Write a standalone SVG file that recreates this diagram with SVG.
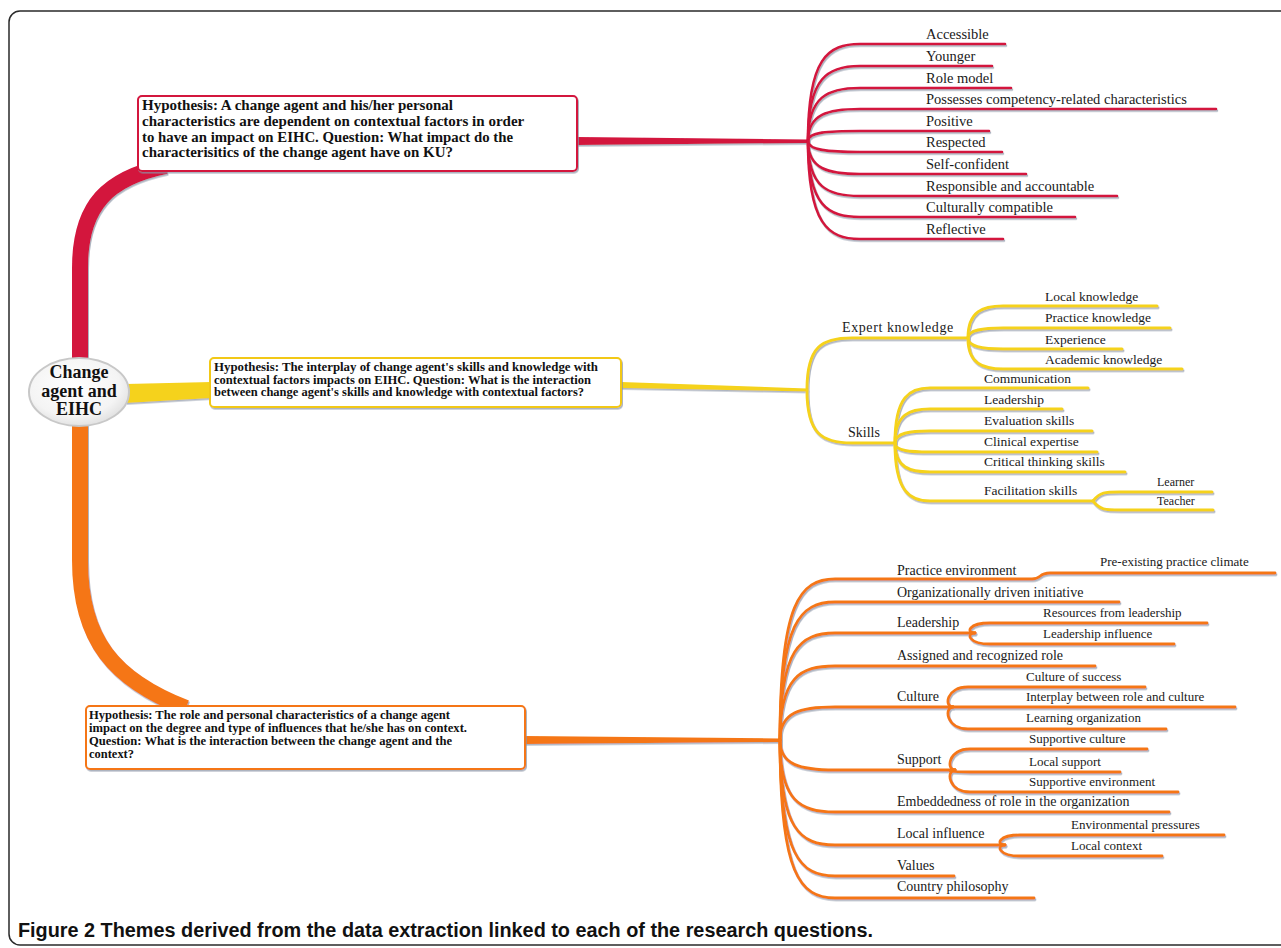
<svg xmlns="http://www.w3.org/2000/svg" width="1281" height="948" viewBox="0 0 1281 948">
<defs>
<filter id="sh" x="-5%" y="-5%" width="110%" height="110%"><feDropShadow dx="1" dy="1.6" stdDeviation="0.5" flood-color="#8a94a6" flood-opacity="0.7"/></filter>
<radialGradient id="eg" cx="0.45" cy="0.4" r="0.65"><stop offset="0" stop-color="#ffffff"/><stop offset="0.7" stop-color="#f4f4f4"/><stop offset="1" stop-color="#dcdcdc"/></radialGradient>
</defs>
<style>
.r{fill:none;stroke:#d3143e;stroke-width:2.6;stroke-linecap:round}
.y{fill:none;stroke:#f5d21a;stroke-width:3;stroke-linecap:round}
.o{fill:none;stroke:#f57614;stroke-width:2.8;stroke-linecap:round}
.lb{font-family:"Liberation Serif","Times New Roman",serif;fill:#1a1a1a}
.lr{font-size:14.5px}
.ly{font-size:13.5px}
.lo{font-size:14px}
.ls{font-size:13px}
.bt{font-family:"Liberation Serif","Times New Roman",serif;font-weight:bold;fill:#111}
.box{fill:#fff;stroke-width:2}
</style>
<rect x="9" y="11" width="1300" height="934" rx="11" fill="#fff" stroke="#2a2a2a" stroke-width="1.5"/>

<g id="connectors" filter="url(#sh)">
<path d="M80,362 L80,268 C80,205 108,178 166,166" fill="none" stroke="#d3143e" stroke-width="16"/>
<path d="M80,422 L80,560 C80,640 114,680 186,708" fill="none" stroke="#f57614" stroke-width="16"/>
<polygon points="126,384 212,382 212,398 126,403" fill="#f5d21a"/>
<polygon points="577,137 808,139.5 808,143 577,145" fill="#d3143e"/>
<polygon points="621,382 807,388.5 807,391.5 621,388" fill="#f5d21a"/>
<polygon points="525,736 780,738.5 780,742 525,744" fill="#f57614"/>
<g class="r">
<path d="M808,141 C808,58 828,44 860,44 L1005,44"/>
<path d="M808,141 C808,77 828,66 860,66 L992,66"/>
<path d="M808,141 C808,96 828,88 860,88 L1011,88"/>
<path d="M808,141 C808,114 828,109 860,109 L1216,109"/>
<path d="M808,141 C808,132 828,131 860,131 L989,131"/>
<path d="M808,141 C808,150 828,152 860,152 L1002,152"/>
<path d="M808,141 C808,169 828,174 860,174 L1026,174"/>
<path d="M808,141 C808,188 828,196 860,196 L1117,196"/>
<path d="M808,141 C808,206 828,217 860,217 L1075,217"/>
<path d="M808,141 C808,224 828,239 860,239 L1003,239"/>
</g>
<g class="y">
<path d="M807,390 C807,346 822,338 852,338 L968,338"/>
<path d="M807,390 C807,434 822,443 852,443 L895,443"/>
<path d="M968,338 C968,311 983,306 1003,306 L1157,306"/>
<path d="M968,338 C968,330 983,328 1003,328 L1170,328"/>
<path d="M968,338 C968,347 983,349 1003,349 L1122,349"/>
<path d="M968,338 C968,364 983,369 1003,369 L1182,369"/>
<path d="M895,443 C895,396 910,388 930,388 L1088,388"/>
<path d="M895,443 C895,414 910,409 930,409 L1062,409"/>
<path d="M895,443 C895,433 910,431 930,431 L1092,431"/>
<path d="M895,443 C895,451 910,452 930,452 L1097,452"/>
<path d="M895,443 C895,468 910,472 930,472 L1125,472"/>
<path d="M895,443 C895,492 910,501 930,501 L1093,501"/>
<path d="M1093,501 C1100,492 1105,492 1120,492 L1212,492"/>
<path d="M1093,501 C1100,510 1105,510 1120,510 L1213,510"/>
</g>
<g class="o">
<path d="M780,740 C780,603 800,579 835,579 L1032,579 C1042,579 1038,573 1050,573 L1275,573"/>
<path d="M780,740 C780,623 800,602 835,602 L1119,602"/>
<path d="M780,740 C780,649 800,633 835,633 L975,633"/>
<path d="M780,740 C780,677 800,666 835,666 L1095,666"/>
<path d="M780,740 C780,712 800,707 835,707 L953,707"/>
<path d="M780,740 C780,765 800,770 835,770 L955,770"/>
<path d="M780,740 C780,801 800,812 835,812 L1169,812"/>
<path d="M780,740 C780,829 800,845 835,845 L1005,845"/>
<path d="M780,740 C780,856 800,876 835,876 L954,876"/>
<path d="M780,740 C780,874 800,898 835,898 L1034,898"/>
<path d="M975,633 C966,633 968,623 990,623 L1207,623"/>
<path d="M975,633 C966,633 968,644 990,644 L1174,644"/>
<path d="M953,707 C944,707 946,687 968,687 L1145,687"/>
<path d="M953,707 L1235,707"/>
<path d="M953,707 C944,707 946,729 968,729 L1166,729"/>
<path d="M955,770 C946,770 948,749 970,749 L1147,749"/>
<path d="M955,770 C946,770 948,772 970,772 L1120,772"/>
<path d="M955,770 C946,770 948,792 970,792 L1178,792"/>
<path d="M1005,845 C996,845 998,835 1020,835 L1224,835"/>
<path d="M1005,845 C996,845 998,856 1020,856 L1162,856"/>
</g>
</g>

<g id="center">
<ellipse cx="79" cy="392" rx="50" ry="34" fill="url(#eg)" stroke="#c8c8c8" stroke-width="2"/>
<text class="bt" font-size="18" text-anchor="middle"><tspan x="79" y="378">Change</tspan><tspan x="79" y="397">agent and</tspan><tspan x="79" y="415">EIHC</tspan></text>
</g>

<g id="hyp1">
<rect class="box" x="138" y="96" width="439" height="75" rx="4" stroke="#d3143e" filter="url(#sh)"/>
<text class="bt" font-size="14.5">
<tspan x="142" y="110" textLength="311" lengthAdjust="spacingAndGlyphs">Hypothesis: A change agent and his/her personal</tspan>
<tspan x="142" y="126" textLength="382" lengthAdjust="spacingAndGlyphs">characteristics are dependent on contextual factors in order</tspan>
<tspan x="142" y="142" textLength="371" lengthAdjust="spacingAndGlyphs">to have an impact on EIHC. Question: What impact do the</tspan>
<tspan x="142" y="157" textLength="311" lengthAdjust="spacingAndGlyphs">characterisitics of the change agent have on KU?</tspan>
</text>
</g>

<g id="hyp2">
<rect class="box" x="210" y="358" width="411" height="49" rx="4" stroke="#f2c812" filter="url(#sh)"/>
<text class="bt" font-size="12">
<tspan x="214" y="371" textLength="384" lengthAdjust="spacingAndGlyphs">Hypothesis: The interplay of change agent's skills and knowledge with</tspan>
<tspan x="214" y="384" textLength="377" lengthAdjust="spacingAndGlyphs">contextual factors impacts on EIHC. Question: What is the interaction</tspan>
<tspan x="214" y="396" textLength="370" lengthAdjust="spacingAndGlyphs">between change agent's skills and knowledge with contextual factors?</tspan>
</text>
</g>

<g id="hyp3">
<rect class="box" x="86" y="706" width="439" height="63" rx="4" stroke="#f57614" filter="url(#sh)"/>
<text class="bt" font-size="12.5">
<tspan x="89" y="719" textLength="361" lengthAdjust="spacingAndGlyphs">Hypothesis: The role and personal characteristics of a change agent</tspan>
<tspan x="89" y="732" textLength="378" lengthAdjust="spacingAndGlyphs">impact on the degree and type of influences that he/she has on context.</tspan>
<tspan x="89" y="745" textLength="363" lengthAdjust="spacingAndGlyphs">Question: What is the interaction between the change agent and the</tspan>
<tspan x="89" y="758" textLength="45" lengthAdjust="spacingAndGlyphs">context?</tspan>
</text>
</g>

<g id="red-leaves" class="lb lr">
<text x="926" y="39">Accessible</text>
<text x="926" y="61">Younger</text>
<text x="926" y="83">Role model</text>
<text x="926" y="104">Possesses competency-related characteristics</text>
<text x="926" y="126">Positive</text>
<text x="926" y="147">Respected</text>
<text x="926" y="169">Self-confident</text>
<text x="926" y="191">Responsible and accountable</text>
<text x="926" y="212">Culturally compatible</text>
<text x="926" y="234">Reflective</text>
</g>

<g id="yellow-nodes" class="lb ly">
<text x="842" y="332" font-size="14" letter-spacing="0.6">Expert knowledge</text>
<text x="848" y="437" font-size="14">Skills</text>
<text x="1045" y="301">Local knowledge</text>
<text x="1045" y="322">Practice knowledge</text>
<text x="1045" y="344">Experience</text>
<text x="1045" y="364">Academic knowledge</text>
<text x="984" y="383">Communication</text>
<text x="984" y="404">Leadership</text>
<text x="984" y="425">Evaluation skills</text>
<text x="984" y="446">Clinical expertise</text>
<text x="984" y="466">Critical thinking skills</text>
<text x="984" y="495">Facilitation skills</text>
<text x="1157" y="486" font-size="12">Learner</text>
<text x="1157" y="505" font-size="12">Teacher</text>
</g>

<g id="orange-nodes" class="lb lo">
<text x="897" y="575">Practice environment</text>
<text x="1100" y="566" class="ls">Pre-existing practice climate</text>
<text x="897" y="597">Organizationally driven initiative</text>
<text x="897" y="627">Leadership</text>
<text x="1043" y="617" class="ls">Resources from leadership</text>
<text x="1043" y="638" class="ls">Leadership influence</text>
<text x="897" y="660">Assigned and recognized role</text>
<text x="897" y="701">Culture</text>
<text x="1026" y="681" class="ls">Culture of success</text>
<text x="1026" y="701" class="ls">Interplay between role and culture</text>
<text x="1026" y="722" class="ls">Learning organization</text>
<text x="897" y="764">Support</text>
<text x="1029" y="743" class="ls">Supportive culture</text>
<text x="1029" y="766" class="ls">Local support</text>
<text x="1029" y="786" class="ls">Supportive environment</text>
<text x="897" y="806">Embeddedness of role in the organization</text>
<text x="897" y="838">Local influence</text>
<text x="1071" y="829" class="ls">Environmental pressures</text>
<text x="1071" y="850" class="ls">Local context</text>
<text x="897" y="870">Values</text>
<text x="897" y="891">Country philosophy</text>
</g>

<text id="caption" x="18" y="937" font-family="'Liberation Sans',Arial,sans-serif" font-size="20" fill="#111" textLength="855" lengthAdjust="spacingAndGlyphs"><tspan font-weight="bold">Figure 2</tspan><tspan font-weight="600"> Themes derived from the data extraction linked to each of the research questions.</tspan></text>
</svg>
